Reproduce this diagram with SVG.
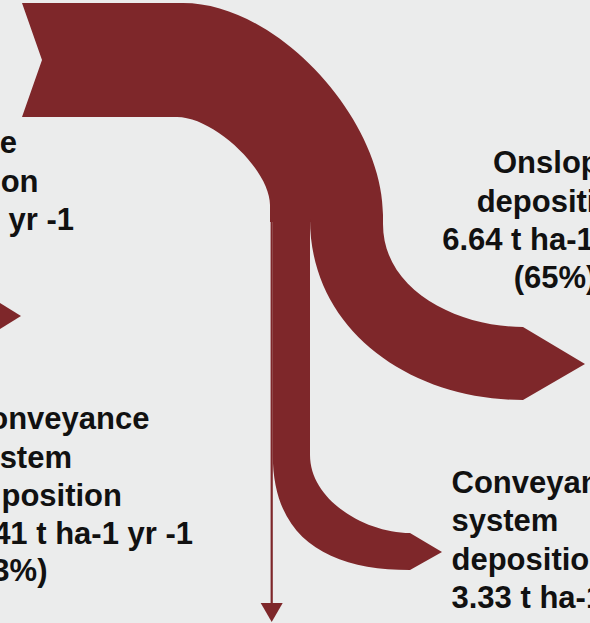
<svg xmlns="http://www.w3.org/2000/svg" width="590" height="623" viewBox="0 0 590 623">
<style>
.flow{fill:#7E272A}
.line{stroke:#7E272A;stroke-width:2.2;fill:none}
.lbl{font-family:"Liberation Sans",Arial,sans-serif;font-weight:bold;font-size:31px;fill:#111}
.mid{text-anchor:middle}
.end{text-anchor:end}
</style>
<rect x="0" y="0" width="590" height="623" fill="#EBECEC"/>
<g id="connectors">
  <path id="flow-input" class="flow" d="M22,3 L183,3 C278,3 383,120 383,215 L383,222 L270,222 L270,205 C270,170 214,117 177,117 L22,117 L42,60 Z"/>
  <path id="flow-onslope" class="flow" d="M310,219 L383,219 L383,224 C383,292 460,327 523,327 L585,364 L523,400 C410,400 310,330 310,219 Z"/>
  <path id="flow-conveyance-right" class="flow" d="M272.8,219 L310,219 L310,455 C310,500 365,533 410,533 L442,552 L410,570 C330,570 272.8,540 272.8,455 Z"/>
  <line id="flow-remainder" class="line" x1="271.7" y1="219" x2="271.7" y2="605"/>
  <polygon class="flow" points="260.7,603 282.7,603 271.7,622"/>
  <polygon id="flow-left" class="flow" points="-5,300 21,316 -5,332"/>
</g>
<g id="node-source">
  <text class="lbl end" x="17" y="153">e</text>
  <text class="lbl end" x="38.5" y="191.5">on</text>
  <text class="lbl end" x="74" y="229.5"> yr -1</text>
</g>
<g id="node-onslope">
  <text class="lbl mid" x="555" y="173">Onslope</text>
  <text class="lbl mid" x="555" y="212">deposition</text>
  <text class="lbl mid" x="555" y="250">6.64 t ha-1 yr -1</text>
  <text class="lbl mid" x="555" y="288">(65%)</text>
</g>
<g id="node-conveyance-left">
  <text class="lbl end" x="149.5" y="428.5">onveyance</text>
  <text class="lbl end" x="72" y="467.5">stem</text>
  <text class="lbl end" x="122" y="505.5">position</text>
  <text class="lbl end" x="193" y="543.5">41 t ha-1 yr -1</text>
  <text class="lbl end" x="47.5" y="581">3%)</text>
</g>
<g id="node-conveyance-right">
  <text class="lbl" x="451.5" y="492.5">Conveyance</text>
  <text class="lbl" x="451.5" y="531">system</text>
  <text class="lbl" x="451.5" y="569.5">deposition</text>
  <text class="lbl" x="451.5" y="608">3.33 t ha-1 yr -1</text>
</g>
</svg>
